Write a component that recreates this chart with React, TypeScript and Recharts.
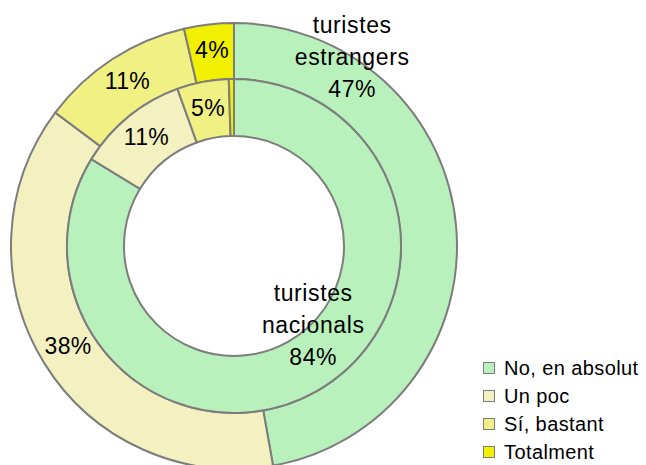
import { PieChart, Pie, Cell, Legend } from "recharts"

const categories = ["No, en absolut", "Un poc", "Sí, bastant", "Totalment"]
const foreignValues = [47.2, 38.0, 11.2, 3.6]
const nationalValues = [83.7, 10.8, 5.0, 0.5]
const seriesNames = [["turistes", "estrangers"], ["turistes", "nacionals"]]

const colors = ["#B9F1BC", "#F3F1C0", "#F1F083", "#F1F000"]
const strokeColor = "#7D7D7D"
const fontFamily = "'Liberation Sans', Arial, sans-serif"
const RAD = Math.PI / 180

const foreignData = categories.map((name, i) => ({ name, value: foreignValues[i] }))
const nationalData = categories.map((name, i) => ({ name, value: nationalValues[i] }))

// series name labels sit off the slice middle, like the spreadsheet placed them
const makeLabel = (values: number[], title: string[], titleAngle: number, titleRadius: number) =>
  (props: any) => {
    const { cx, cy, midAngle, innerRadius, outerRadius, index } = props
    const total = values.reduce((a, b) => a + b, 0)
    const pct = Math.round((values[index] / total) * 100)
    if (values[index] / total < 0.01) return null
    if (index === 0) {
      const x = cx + titleRadius * Math.cos(titleAngle * RAD)
      const y = cy - titleRadius * Math.sin(titleAngle * RAD)
      return (
        <text x={x} y={y} textAnchor="middle" fill="#000" fontSize={23} fontFamily={fontFamily} letterSpacing={0.6}>
          <tspan x={x} y={y - 32} dominantBaseline="central">{title[0]}</tspan>
          <tspan x={x} y={y} dominantBaseline="central">{title[1]}</tspan>
          <tspan x={x} y={y + 32} dominantBaseline="central">{pct}%</tspan>
        </text>
      )
    }
    const r = (innerRadius + outerRadius) / 2
    const x = cx + r * Math.cos(midAngle * RAD)
    const y = cy - r * Math.sin(midAngle * RAD)
    return (
      <text x={x} y={y - 2} textAnchor="middle" dominantBaseline="central" fill="#000" fontSize={23} fontFamily={fontFamily} letterSpacing={0.3}>
        {pct}%
      </text>
    )
  }

const LegendBox = () => (
  <div style={{ fontFamily, fontSize: 20, letterSpacing: 0.4, color: "#000" }}>
    {categories.map((c, i) => (
      <div key={c} style={{ display: "flex", alignItems: "center", height: 28 }}>
        <span
          style={{
            display: "inline-block",
            width: 10,
            height: 10,
            background: colors[i],
            border: `1.5px solid ${strokeColor}`,
            marginRight: 9,
          }}
        />
        <span>{c}</span>
      </div>
    ))}
  </div>
)

export default function App() {
  return (
    <div style={{ position: "absolute", left: 0, top: 0, width: 646, height: 465, background: "#fff", overflow: "hidden" }}>
      <PieChart width={646} height={480} margin={{ top: 0, right: 0, bottom: 0, left: 0 }}>
        <Pie
          data={foreignData}
          dataKey="value"
          cx={234}
          cy={246}
          innerRadius={167}
          outerRadius={223}
          startAngle={90}
          endAngle={-270}
          stroke={strokeColor}
          strokeWidth={2}
          labelLine={false}
          label={makeLabel(foreignValues, seriesNames[0], 58, 223)}
          isAnimationActive={false}
        >
          {foreignData.map((d, i) => (
            <Cell key={d.name} fill={colors[i]} />
          ))}
        </Pie>
        <Pie
          data={nationalData}
          dataKey="value"
          cx={234}
          cy={246}
          innerRadius={110}
          outerRadius={167}
          startAngle={90}
          endAngle={-270}
          stroke={strokeColor}
          strokeWidth={2}
          labelLine={false}
          label={makeLabel(nationalValues, seriesNames[1], -45, 112)}
          isAnimationActive={false}
        >
          {nationalData.map((d, i) => (
            <Cell key={d.name} fill={colors[i]} />
          ))}
        </Pie>
        <Legend
          content={() => <LegendBox />}
          wrapperStyle={{ position: "absolute", left: 483, top: 354, width: 165, bottom: "auto", right: "auto" }}
        />
      </PieChart>
    </div>
  )
}
